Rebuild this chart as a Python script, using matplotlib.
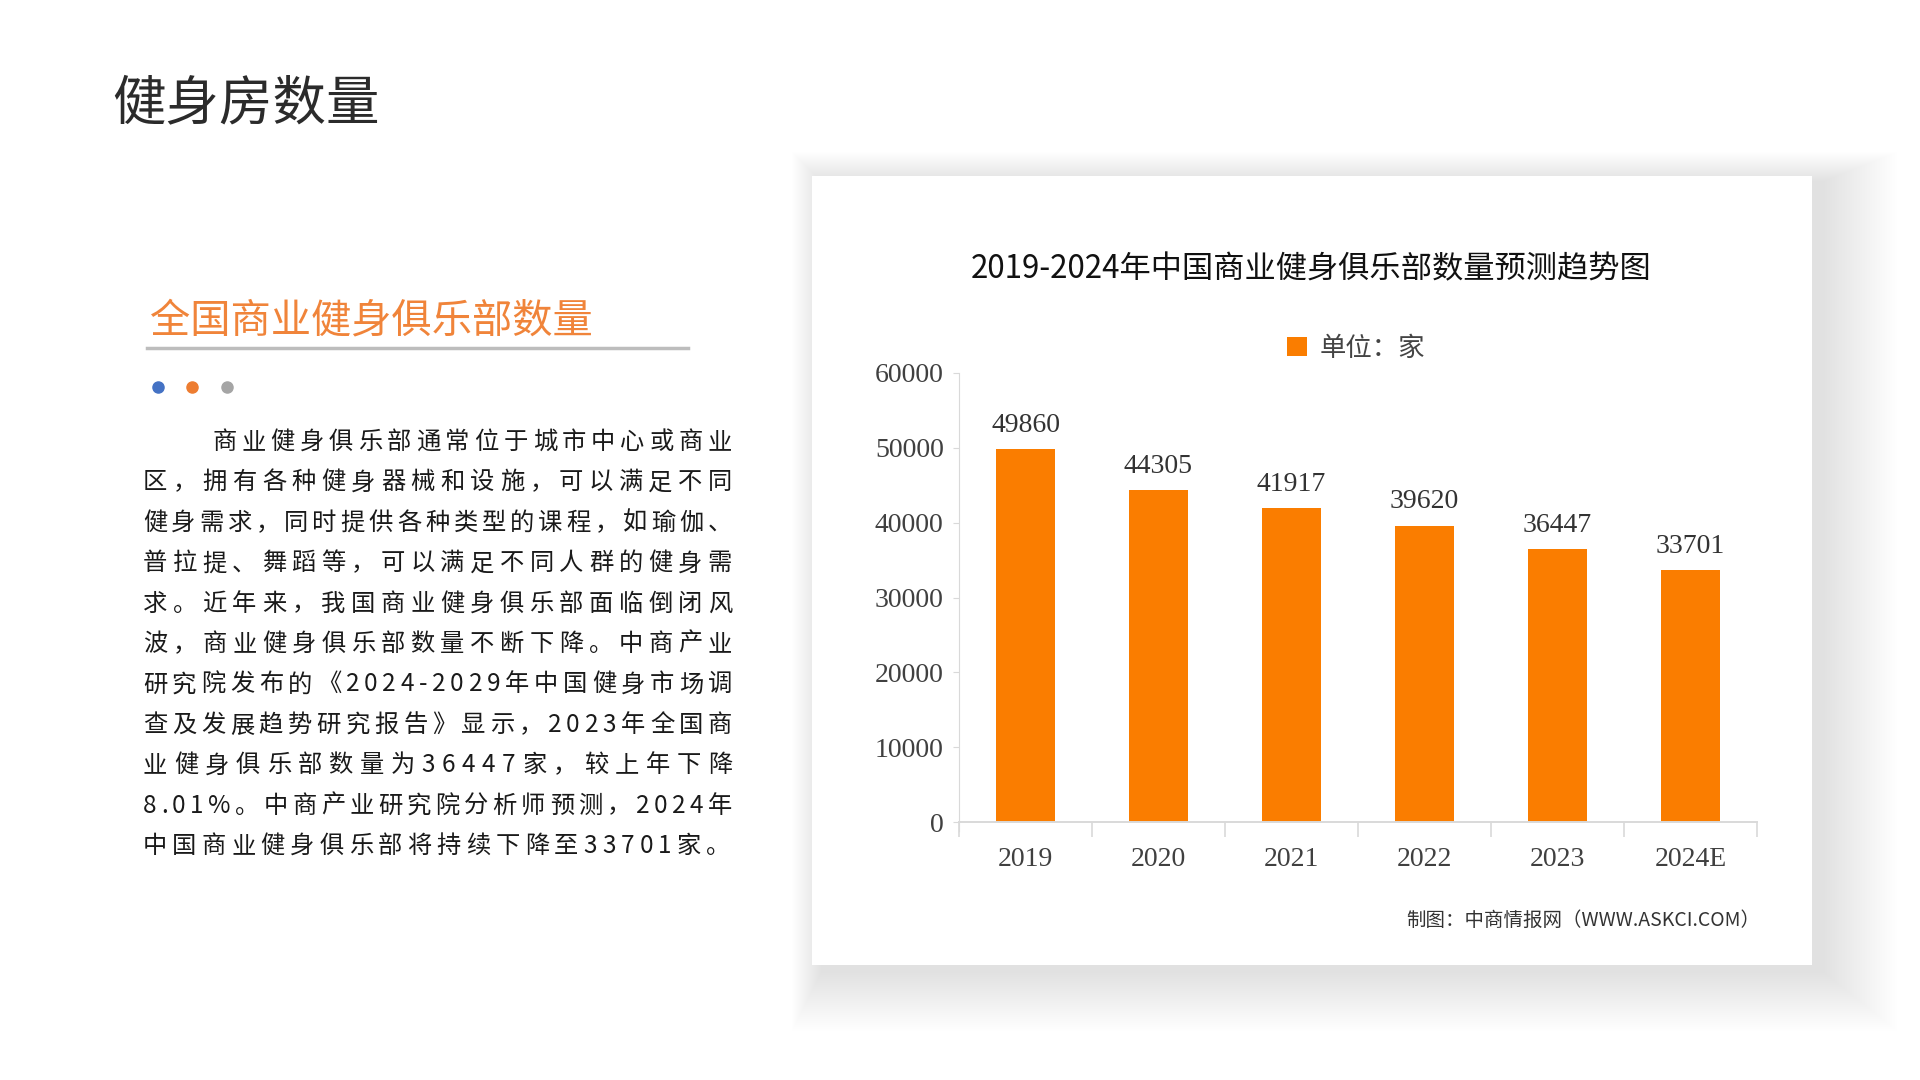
import numpy as np
import matplotlib
matplotlib.use("Agg")
import matplotlib.pyplot as plt
from matplotlib.patches import Rectangle

# chart data
years = ["2019", "2020", "2021", "2022", "2023", "2024E"]
clubs = [49860, 44305, 41917, 39620, 36447, 33701]
y_ticks = [0, 10000, 20000, 30000, 40000, 50000, 60000]

page_title = "健身房数量"
section_title = "全国商业健身俱乐部数量"
chart_title = "2019-2024年中国商业健身俱乐部数量预测趋势图"
legend_label = "单位：家"
source_note = "制图：中商情报网（WWW.ASKCI.COM）"
para_lines = [
    "商业健身俱乐部通常位于城市中心或商业",
    "区，拥有各种健身器械和设施，可以满足不同",
    "健身需求，同时提供各种类型的课程，如瑜伽、",
    "普拉提、舞蹈等，可以满足不同人群的健身需",
    "求。近年来，我国商业健身俱乐部面临倒闭风",
    "波，商业健身俱乐部数量不断下降。中商产业",
    "研究院发布的《2024-2029年中国健身市场调",
    "查及发展趋势研究报告》显示，2023年全国商",
    "业健身俱乐部数量为36447家，较上年下降",
    "8.01%。中商产业研究院分析师预测，2024年",
    "中国商业健身俱乐部将持续下降至33701家。",
]

CJK = ["Noto Sans CJK SC", "DejaVu Sans"]
SERIF = ["Liberation Serif", "Noto Sans CJK SC"]
plt.rcParams["font.family"] = CJK

W, H = 1920, 1080
fig = plt.figure(figsize=(19.2, 10.8), dpi=100, facecolor="white")


def fx(x):
    return x / W


def fy(y):
    return 1 - y / H


# ---- card with soft shadow behind the chart ----
cx0, cy0, cx1, cy1 = 812, 176, 1812, 965
for i in range(30, 0, -1):
    grow = i * 2.5
    fig.patches.append(Rectangle(
        (fx(cx0 - grow * 0.4 + 10), fy(cy1 + grow * 0.8 + 6)),
        (cx1 - cx0 + grow * 1.4) / W, (cy1 - cy0 + grow * 1.2) / H,
        transform=fig.transFigure, facecolor="#000000", alpha=0.0035,
        edgecolor="none", zorder=0))
fig.patches.append(Rectangle((fx(cx0), fy(cy1)), (cx1 - cx0) / W, (cy1 - cy0) / H,
                             transform=fig.transFigure, facecolor="white",
                             edgecolor="none", zorder=0.5))

# ---- left side texts ----
fig.text(fx(112), fy(104), page_title, fontsize=38.5, color="#2b2b2b",
         ha="left", va="center")
fig.text(fx(150), fy(321), section_title, fontsize=29, color="#F0843A",
         ha="left", va="center")
fig.add_artist(plt.Line2D([fx(147), fx(688)], [fy(348), fy(348)],
                          color="#BDBDBD", lw=2.5, transform=fig.transFigure))
for xd, col in zip([158, 192, 227], ["#4472C4", "#ED7D31", "#A5A5A5"]):
    fig.add_artist(plt.Line2D([fx(xd)], [fy(387)], marker="o", markersize=8,
                              color=col, lw=0, transform=fig.transFigure))

# paragraph, justified character by character
renderer = fig.canvas.get_renderer()
left, right = 143, 732
line_y0, line_step = 442, 40.4
para_size = 17.5
gaps = []
layouts = []
for k, line in enumerate(para_lines):
    objs = [fig.text(0, 0, ch, fontsize=para_size, color="#1a1a1a",
                     ha="left", va="center", weight="medium") for ch in line]
    widths = [o.get_window_extent(renderer).width for o in objs]
    start = 212 if k == 0 else left
    layouts.append((objs, widths, start))
    if k < len(para_lines) - 1:
        gaps.append((right - start - sum(widths)) / (len(line) - 1))
mean_gap = float(np.mean(gaps))
for k, (objs, widths, start) in enumerate(layouts):
    gap = gaps[k] if k < len(gaps) else mean_gap
    x = start
    for o, w in zip(objs, widths):
        o.set_position((fx(x), fy(line_y0 + k * line_step)))
        x += w + gap

# ---- chart ----
ax_l, ax_r, ax_t, ax_b = 959, 1757, 373, 822
ax = fig.add_axes([fx(ax_l), fy(ax_b), (ax_r - ax_l) / W, (ax_b - ax_t) / H])
ax.set_zorder(3)
ax.set_facecolor("none")
x = np.arange(len(years))
bars = ax.bar(x, clubs, width=0.45, color="#FA7D00", zorder=2, label=legend_label)
ax.bar_label(bars, labels=[str(v) for v in clubs], padding=8, fontsize=20,
             family=SERIF, color="#333333")
ax.set_xlim(-0.5, len(years) - 0.5)
ax.set_ylim(0, 60000)
ax.set_yticks(y_ticks)
ax.set_yticklabels([str(v) for v in y_ticks], family=SERIF, fontsize=20, color="#404040")
ax.set_xticks(x)
ax.set_xticklabels(years, family=SERIF, fontsize=20, color="#404040")
ax.set_xticks(np.arange(-0.5, len(years)), minor=True)
ax.tick_params(axis="x", which="major", length=0, pad=18)
ax.tick_params(axis="x", which="minor", length=11, color="#D9D9D9", width=1.2)
ax.tick_params(axis="y", length=4, color="#D9D9D9", pad=7)
for s in ["top", "right"]:
    ax.spines[s].set_visible(False)
ax.spines["left"].set_color("#D9D9D9")
ax.spines["left"].set_bounds(-1200, 60000)
ax.spines["bottom"].set_color("#D9D9D9")
ax.spines["bottom"].set_linewidth(1.4)

fig.text(fx(1311), fy(269), chart_title, fontsize=22.5, color="#111111",
         ha="center", va="center", zorder=4)
leg = fig.legend(handles=[bars], labels=[legend_label], loc="center",
                 bbox_to_anchor=(fx(1356), fy(348)), frameon=False, fontsize=19,
                 handlelength=0.75, handleheight=0.75, handletextpad=0.5,
                 labelcolor="#444444")
leg.set_zorder(4)
fig.text(fx(1760), fy(920), source_note, fontsize=14, color="#333333",
         ha="right", va="center", zorder=4)

fig.savefig("out.png", dpi=100, facecolor="white")
